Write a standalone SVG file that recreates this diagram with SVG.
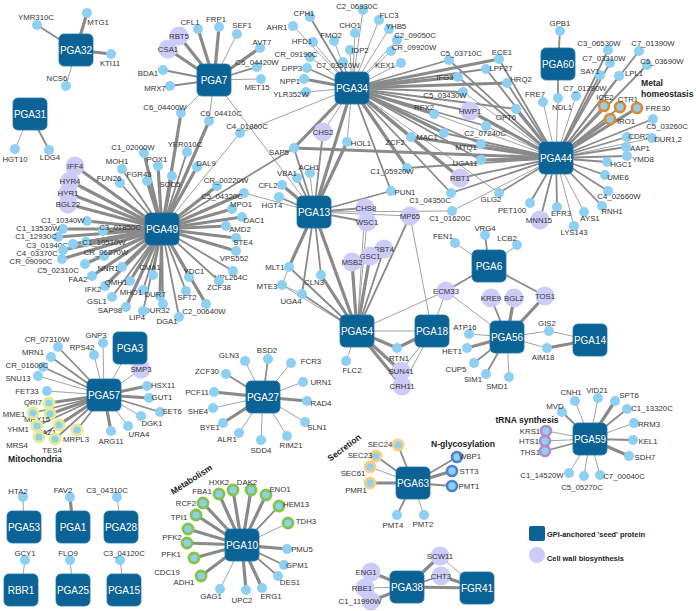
<svg xmlns="http://www.w3.org/2000/svg" width="696" height="611" viewBox="0 0 696 611">
<style>
.e{stroke:#8a8a8a;fill:none;stroke-linecap:round}
.a{stroke-width:0.8}.b{stroke-width:1.8}.c{stroke-width:3.2}
.n{fill:#8dd0f2}
.p{fill:#cdccf8}
.s{fill:#0b6294;stroke:#2277aa;stroke-width:0.8}
.t{font-family:"Liberation Sans",Arial,sans-serif;font-size:7.8px;fill:#333;text-anchor:middle}
.st{font-family:"Liberation Sans",Arial,sans-serif;font-size:10px;fill:#fff;text-anchor:middle}
.h{font-family:"Liberation Sans",Arial,sans-serif;font-size:8.6px;font-weight:bold;fill:#222}
.lg{font-family:"Liberation Sans",Arial,sans-serif;font-size:7.4px;font-weight:bold;fill:#222}
.ro{fill:#8dd0f2;stroke:#e0892c;stroke-width:2.6}
.rg{fill:#8dd0f2;stroke:#86c34a;stroke-width:2.8}
.ry{fill:#8dd0f2;stroke:#e6ea92;stroke-width:3}
.rs{fill:#8dd0f2;stroke:#f6cf88;stroke-width:3}
.rb{fill:#8dd0f2;stroke:#4f7fd2;stroke-width:2.6}
.rv{fill:#8dd0f2;stroke:#b68ac6;stroke-width:2.6}
</style>
<rect width="696" height="611" fill="#fff"/>
<g id="edges" class="e">
<line class="b" x1="76" y1="50" x2="37" y2="25"/><line class="c" x1="76" y1="50" x2="87" y2="13"/><line class="c" x1="76" y1="50" x2="111" y2="54"/><line class="a" x1="76" y1="50" x2="66" y2="86"/>
<line class="a" x1="30" y1="114" x2="15" y2="149"/><line class="b" x1="30" y1="114" x2="49" y2="150"/>
<line class="c" x1="214" y1="80" x2="198" y2="29"/><line class="c" x1="214" y1="80" x2="219" y2="27"/><line class="a" x1="214" y1="80" x2="237" y2="34"/><line class="c" x1="214" y1="80" x2="260" y2="48"/><line class="b" x1="214" y1="80" x2="257" y2="67"/><line class="a" x1="214" y1="80" x2="261" y2="79"/><line class="b" x1="214" y1="80" x2="170" y2="86"/><line class="b" x1="214" y1="80" x2="163" y2="70"/><line class="c" x1="214" y1="80" x2="168" y2="49"/><line class="c" x1="214" y1="80" x2="179" y2="36"/><line class="a" x1="214" y1="80" x2="181" y2="113"/><line class="a" x1="214" y1="80" x2="209" y2="121"/><line class="a" x1="214" y1="80" x2="314" y2="212"/>
<line class="c" x1="162" y1="229" x2="181" y2="113"/><line class="c" x1="162" y1="229" x2="209" y2="121"/><line class="c" x1="162" y1="229" x2="75" y2="166"/><line class="c" x1="162" y1="229" x2="70" y2="181"/><line class="c" x1="162" y1="229" x2="68" y2="193"/><line class="c" x1="162" y1="229" x2="68" y2="204"/><line class="c" x1="162" y1="229" x2="144" y2="153"/><line class="b" x1="162" y1="229" x2="122" y2="169"/><line class="c" x1="162" y1="229" x2="158" y2="166"/><line class="b" x1="162" y1="229" x2="120" y2="183"/><line class="c" x1="162" y1="229" x2="147" y2="181"/><line class="c" x1="162" y1="229" x2="172" y2="176"/><line class="b" x1="162" y1="229" x2="187" y2="152"/><line class="c" x1="162" y1="229" x2="197" y2="167"/><line class="c" x1="162" y1="229" x2="217" y2="186"/><line class="c" x1="162" y1="229" x2="244" y2="193"/><line class="c" x1="162" y1="229" x2="232" y2="209"/><line class="c" x1="162" y1="229" x2="242" y2="217"/><line class="c" x1="162" y1="229" x2="226" y2="226"/><line class="c" x1="162" y1="229" x2="236" y2="238"/><line class="c" x1="162" y1="229" x2="236" y2="251"/><line class="b" x1="162" y1="229" x2="233" y2="271"/><line class="b" x1="162" y1="229" x2="219" y2="281"/><line class="b" x1="162" y1="229" x2="189" y2="277"/><line class="b" x1="162" y1="229" x2="186" y2="291"/><line class="c" x1="162" y1="229" x2="206" y2="304"/><line class="b" x1="162" y1="229" x2="179" y2="317"/><line class="c" x1="162" y1="229" x2="87" y2="221"/><line class="c" x1="162" y1="229" x2="63" y2="229"/><line class="c" x1="162" y1="229" x2="103" y2="231"/><line class="c" x1="162" y1="229" x2="58" y2="237"/><line class="c" x1="162" y1="229" x2="86" y2="242"/><line class="c" x1="162" y1="229" x2="73" y2="244"/><line class="c" x1="162" y1="229" x2="63" y2="250"/><line class="c" x1="162" y1="229" x2="104" y2="256"/><line class="c" x1="162" y1="229" x2="62" y2="259"/><line class="c" x1="162" y1="229" x2="85" y2="264"/><line class="c" x1="162" y1="229" x2="122" y2="267"/><line class="c" x1="162" y1="229" x2="92" y2="276"/><line class="b" x1="162" y1="229" x2="153" y2="275"/><line class="c" x1="162" y1="229" x2="105" y2="286"/><line class="c" x1="162" y1="229" x2="130" y2="281"/><line class="b" x1="162" y1="229" x2="143" y2="290"/><line class="c" x1="162" y1="229" x2="160" y2="296"/><line class="b" x1="162" y1="229" x2="112" y2="297"/><line class="c" x1="162" y1="229" x2="126" y2="307"/><line class="b" x1="162" y1="229" x2="163" y2="304"/><line class="b" x1="162" y1="229" x2="143" y2="311"/><line class="a" x1="162" y1="229" x2="240" y2="133"/><line class="b" x1="162" y1="229" x2="294" y2="148"/>
<line class="a" x1="240" y1="133" x2="352" y2="88"/><line class="a" x1="244" y1="193" x2="314" y2="212"/>
<line class="b" x1="352" y1="88" x2="310" y2="17"/><line class="a" x1="352" y1="88" x2="293" y2="26"/><line class="a" x1="352" y1="88" x2="313" y2="42"/><line class="a" x1="352" y1="88" x2="334" y2="41"/><line class="a" x1="352" y1="88" x2="310" y2="57"/><line class="b" x1="352" y1="88" x2="307" y2="68"/><line class="c" x1="352" y1="88" x2="304" y2="79"/><line class="a" x1="352" y1="88" x2="306" y2="92"/><line class="a" x1="352" y1="88" x2="363" y2="10"/><line class="a" x1="352" y1="88" x2="355" y2="33"/><line class="a" x1="352" y1="88" x2="379" y2="20"/><line class="a" x1="352" y1="88" x2="389" y2="29"/><line class="a" x1="352" y1="88" x2="397" y2="40"/><line class="a" x1="352" y1="88" x2="391" y2="51"/><line class="a" x1="352" y1="88" x2="350" y2="50"/><line class="a" x1="352" y1="88" x2="343" y2="62"/><line class="a" x1="352" y1="88" x2="401" y2="63"/><line class="b" x1="352" y1="88" x2="449" y2="60"/><line class="c" x1="352" y1="88" x2="499" y2="59"/><line class="b" x1="352" y1="88" x2="486" y2="69"/><line class="c" x1="352" y1="88" x2="458" y2="77"/><line class="c" x1="352" y1="88" x2="507" y2="83"/><line class="b" x1="352" y1="88" x2="463" y2="92"/><line class="b" x1="352" y1="88" x2="470" y2="111"/><line class="c" x1="352" y1="88" x2="434" y2="114"/><line class="b" x1="352" y1="88" x2="516" y2="109"/><line class="b" x1="352" y1="88" x2="486" y2="126"/><line class="c" x1="352" y1="88" x2="444" y2="133"/><line class="c" x1="352" y1="88" x2="411" y2="137"/><line class="b" x1="352" y1="88" x2="481" y2="144"/><line class="b" x1="352" y1="88" x2="481" y2="160"/><line class="c" x1="352" y1="88" x2="407" y2="168"/><line class="c" x1="352" y1="88" x2="460" y2="178"/><line class="b" x1="352" y1="88" x2="391" y2="191"/><line class="b" x1="352" y1="88" x2="451" y2="193"/><line class="a" x1="352" y1="88" x2="499" y2="193"/><line class="a" x1="352" y1="88" x2="347" y2="142"/><line class="c" x1="352" y1="88" x2="294" y2="148"/><line class="a" x1="352" y1="88" x2="323" y2="132"/><line class="c" x1="352" y1="88" x2="314" y2="212"/>
<line class="b" x1="556" y1="158" x2="449" y2="60"/><line class="b" x1="556" y1="158" x2="499" y2="59"/><line class="b" x1="556" y1="158" x2="486" y2="69"/><line class="b" x1="556" y1="158" x2="458" y2="77"/><line class="b" x1="556" y1="158" x2="507" y2="83"/><line class="a" x1="556" y1="158" x2="463" y2="92"/><line class="c" x1="556" y1="158" x2="470" y2="111"/><line class="a" x1="556" y1="158" x2="434" y2="114"/><line class="c" x1="556" y1="158" x2="516" y2="109"/><line class="a" x1="556" y1="158" x2="486" y2="126"/><line class="b" x1="556" y1="158" x2="444" y2="133"/><line class="c" x1="556" y1="158" x2="411" y2="137"/><line class="b" x1="556" y1="158" x2="481" y2="144"/><line class="c" x1="556" y1="158" x2="481" y2="160"/><line class="b" x1="556" y1="158" x2="407" y2="168"/><line class="b" x1="556" y1="158" x2="460" y2="178"/><line class="b" x1="556" y1="158" x2="451" y2="193"/><line class="b" x1="556" y1="158" x2="499" y2="193"/><line class="c" x1="556" y1="158" x2="294" y2="148"/><line class="a" x1="556" y1="158" x2="543" y2="102"/><line class="a" x1="556" y1="158" x2="558" y2="98"/><line class="a" x1="556" y1="158" x2="576" y2="96"/><line class="b" x1="556" y1="158" x2="600" y2="75"/><line class="b" x1="556" y1="158" x2="608" y2="50"/><line class="b" x1="556" y1="158" x2="610" y2="63"/><line class="b" x1="556" y1="158" x2="619" y2="76"/><line class="b" x1="556" y1="158" x2="639" y2="51"/><line class="b" x1="556" y1="158" x2="647" y2="65"/><line class="b" x1="556" y1="158" x2="604" y2="106"/><line class="b" x1="556" y1="158" x2="620" y2="107"/><line class="c" x1="556" y1="158" x2="637" y2="108"/><line class="c" x1="556" y1="158" x2="610" y2="119"/><line class="b" x1="556" y1="158" x2="653" y2="119"/><line class="b" x1="556" y1="158" x2="627" y2="137"/><line class="a" x1="556" y1="158" x2="652" y2="138"/><line class="b" x1="556" y1="158" x2="626" y2="147"/><line class="b" x1="556" y1="158" x2="627" y2="156"/><line class="b" x1="556" y1="158" x2="607" y2="162"/><line class="b" x1="556" y1="158" x2="605" y2="175"/><line class="b" x1="556" y1="158" x2="608" y2="191"/><line class="b" x1="556" y1="158" x2="602" y2="206"/><line class="a" x1="556" y1="158" x2="584" y2="212"/><line class="a" x1="556" y1="158" x2="574" y2="226"/><line class="b" x1="556" y1="158" x2="557" y2="207"/><line class="b" x1="556" y1="158" x2="540" y2="220"/><line class="b" x1="556" y1="158" x2="530" y2="203"/><line class="a" x1="556" y1="158" x2="452" y2="211"/>
<line class="b" x1="558" y1="64" x2="560" y2="31"/><line class="b" x1="558" y1="64" x2="558" y2="98"/>
<line class="b" x1="314" y1="212" x2="279" y2="197"/><line class="c" x1="314" y1="212" x2="282" y2="185"/><line class="b" x1="314" y1="212" x2="297" y2="178"/><line class="a" x1="314" y1="212" x2="310" y2="173"/><line class="b" x1="314" y1="212" x2="294" y2="148"/><line class="b" x1="314" y1="212" x2="323" y2="132"/><line class="c" x1="314" y1="212" x2="347" y2="142"/><line class="b" x1="314" y1="212" x2="391" y2="191"/><line class="a" x1="314" y1="212" x2="452" y2="211"/><line class="b" x1="314" y1="212" x2="365" y2="208"/><line class="b" x1="314" y1="212" x2="367" y2="222"/><line class="a" x1="314" y1="212" x2="410" y2="216"/><line class="c" x1="314" y1="212" x2="289" y2="267"/><line class="b" x1="314" y1="212" x2="321" y2="275"/><line class="b" x1="314" y1="212" x2="302" y2="294"/><line class="c" x1="314" y1="212" x2="357" y2="331"/>
<line class="a" x1="289" y1="267" x2="282" y2="285"/><line class="a" x1="282" y1="285" x2="302" y2="294"/>
<line class="b" x1="357" y1="331" x2="289" y2="267"/><line class="b" x1="357" y1="331" x2="302" y2="294"/><line class="c" x1="357" y1="331" x2="321" y2="275"/><line class="a" x1="357" y1="331" x2="282" y2="285"/><line class="a" x1="357" y1="331" x2="346" y2="361"/><line class="c" x1="357" y1="331" x2="397" y2="348"/><line class="c" x1="357" y1="331" x2="401" y2="371"/><line class="c" x1="357" y1="331" x2="402" y2="386"/><line class="a" x1="357" y1="331" x2="446" y2="291"/><line class="a" x1="357" y1="331" x2="432" y2="331"/><line class="c" x1="357" y1="331" x2="352" y2="262"/><line class="c" x1="357" y1="331" x2="370" y2="256"/><line class="b" x1="357" y1="331" x2="384" y2="249"/><line class="b" x1="357" y1="331" x2="410" y2="216"/><line class="a" x1="357" y1="331" x2="365" y2="208"/><line class="a" x1="357" y1="331" x2="367" y2="222"/>
<line class="c" x1="432" y1="331" x2="397" y2="348"/><line class="a" x1="432" y1="331" x2="401" y2="371"/><line class="a" x1="432" y1="331" x2="402" y2="386"/><line class="a" x1="432" y1="331" x2="446" y2="291"/><line class="a" x1="432" y1="331" x2="410" y2="216"/>
<line class="a" x1="489" y1="266" x2="455" y2="243"/><line class="b" x1="489" y1="266" x2="485" y2="235"/><line class="a" x1="489" y1="266" x2="517" y2="245"/><line class="b" x1="489" y1="266" x2="446" y2="291"/><line class="b" x1="489" y1="266" x2="545" y2="296"/>
<line class="b" x1="507" y1="337" x2="491" y2="298"/><line class="c" x1="507" y1="337" x2="514" y2="298"/><line class="c" x1="507" y1="337" x2="545" y2="296"/><line class="a" x1="507" y1="337" x2="446" y2="291"/><line class="a" x1="507" y1="337" x2="469" y2="334"/><line class="c" x1="507" y1="337" x2="467" y2="348"/><line class="b" x1="507" y1="337" x2="474" y2="363"/><line class="b" x1="507" y1="337" x2="486" y2="374"/><line class="a" x1="507" y1="337" x2="509" y2="377"/><line class="a" x1="507" y1="337" x2="549" y2="331"/><line class="a" x1="507" y1="337" x2="547" y2="348"/>
<line class="a" x1="590" y1="340" x2="549" y2="331"/><line class="c" x1="590" y1="340" x2="547" y2="348"/>
<line class="a" x1="130" y1="348" x2="141" y2="369"/><line class="a" x1="130" y1="348" x2="104" y2="395"/>
<line class="a" x1="104" y1="395" x2="141" y2="369"/><line class="a" x1="104" y1="395" x2="103" y2="343"/><line class="a" x1="104" y1="395" x2="94" y2="355"/><line class="b" x1="104" y1="395" x2="58" y2="347"/><line class="b" x1="104" y1="395" x2="51" y2="357"/><line class="b" x1="104" y1="395" x2="43" y2="367"/><line class="a" x1="104" y1="395" x2="38" y2="376"/><line class="a" x1="104" y1="395" x2="47" y2="391"/><line class="c" x1="104" y1="395" x2="49" y2="403"/><line class="c" x1="104" y1="395" x2="147" y2="386"/><line class="c" x1="104" y1="395" x2="149" y2="398"/><line class="b" x1="104" y1="395" x2="160" y2="412"/><line class="a" x1="104" y1="395" x2="141" y2="416"/><line class="a" x1="104" y1="395" x2="128" y2="426"/><line class="c" x1="104" y1="395" x2="111" y2="431"/><line class="b" x1="104" y1="395" x2="77" y2="430"/><line class="c" x1="104" y1="395" x2="59" y2="425"/><line class="c" x1="104" y1="395" x2="50" y2="414"/><line class="b" x1="104" y1="395" x2="33" y2="413"/><line class="b" x1="104" y1="395" x2="37" y2="426"/><line class="b" x1="104" y1="395" x2="39" y2="437"/><line class="b" x1="104" y1="395" x2="55" y2="439"/>
<line class="a" x1="263" y1="397" x2="245" y2="361"/><line class="b" x1="263" y1="397" x2="268" y2="359"/><line class="a" x1="263" y1="397" x2="291" y2="363"/><line class="b" x1="263" y1="397" x2="226" y2="374"/><line class="a" x1="263" y1="397" x2="303" y2="382"/><line class="c" x1="263" y1="397" x2="214" y2="392"/><line class="c" x1="263" y1="397" x2="307" y2="401"/><line class="a" x1="263" y1="397" x2="213" y2="408"/><line class="c" x1="263" y1="397" x2="223" y2="423"/><line class="a" x1="263" y1="397" x2="239" y2="433"/><line class="a" x1="263" y1="397" x2="261" y2="440"/><line class="a" x1="263" y1="397" x2="287" y2="436"/><line class="a" x1="263" y1="397" x2="305" y2="422"/>
<line class="c" x1="242" y1="545" x2="219" y2="494"/><line class="c" x1="242" y1="545" x2="233" y2="490"/><line class="c" x1="242" y1="545" x2="251" y2="490"/><line class="c" x1="242" y1="545" x2="266" y2="495"/><line class="b" x1="242" y1="545" x2="279" y2="506"/><line class="a" x1="242" y1="545" x2="288" y2="523"/><line class="c" x1="242" y1="545" x2="203" y2="503"/><line class="c" x1="242" y1="545" x2="196" y2="515"/><line class="c" x1="242" y1="545" x2="188" y2="529"/><line class="c" x1="242" y1="545" x2="187" y2="543"/><line class="c" x1="242" y1="545" x2="194" y2="558"/><line class="c" x1="242" y1="545" x2="201" y2="576"/><line class="c" x1="242" y1="545" x2="287" y2="549"/><line class="b" x1="242" y1="545" x2="284" y2="565"/><line class="b" x1="242" y1="545" x2="278" y2="576"/><line class="c" x1="242" y1="545" x2="262" y2="588"/><line class="c" x1="242" y1="545" x2="246" y2="590"/><line class="a" x1="242" y1="545" x2="220" y2="589"/>
<line class="b" x1="413" y1="483" x2="398" y2="445"/><line class="b" x1="413" y1="483" x2="376" y2="456"/><line class="a" x1="413" y1="483" x2="370" y2="467"/><line class="c" x1="413" y1="483" x2="370" y2="483"/><line class="b" x1="413" y1="483" x2="457" y2="457"/><line class="c" x1="413" y1="483" x2="452" y2="471"/><line class="b" x1="413" y1="483" x2="452" y2="486"/><line class="b" x1="413" y1="483" x2="397" y2="515"/><line class="a" x1="413" y1="483" x2="424" y2="515"/>
<line class="a" x1="590" y1="439" x2="575" y2="401"/><line class="a" x1="590" y1="439" x2="598" y2="398"/><line class="c" x1="590" y1="439" x2="615" y2="401"/><line class="b" x1="590" y1="439" x2="562" y2="412"/><line class="b" x1="590" y1="439" x2="627" y2="409"/><line class="a" x1="590" y1="439" x2="634" y2="423"/><line class="b" x1="590" y1="439" x2="633" y2="440"/><line class="c" x1="590" y1="439" x2="629" y2="456"/><line class="a" x1="590" y1="439" x2="600" y2="475"/><line class="a" x1="590" y1="439" x2="584" y2="476"/><line class="a" x1="590" y1="439" x2="569" y2="473"/><line class="a" x1="590" y1="439" x2="546" y2="431"/><line class="a" x1="590" y1="439" x2="545" y2="441"/><line class="b" x1="590" y1="439" x2="545" y2="451"/>
<line class="c" x1="407" y1="587" x2="371" y2="572"/><line class="a" x1="407" y1="587" x2="365" y2="588"/><line class="c" x1="407" y1="587" x2="371" y2="601"/><line class="c" x1="407" y1="587" x2="440" y2="556"/><line class="b" x1="407" y1="587" x2="441" y2="576"/><line class="c" x1="407" y1="587" x2="477" y2="588"/><line class="a" x1="477" y1="588" x2="440" y2="556"/><line class="c" x1="477" y1="588" x2="441" y2="576"/>
<line class="a" x1="24" y1="527" x2="23" y2="497"/><line class="c" x1="73" y1="527" x2="70" y2="497"/><line class="a" x1="121" y1="527" x2="117" y2="497"/><line class="a" x1="21" y1="590" x2="25" y2="560"/><line class="a" x1="73" y1="590" x2="70" y2="560"/><line class="a" x1="124" y1="590" x2="120" y2="560"/>
</g>
<g id="n-YMR310C"><circle class="n" cx="37" cy="25" r="5"/><text class="t" x="36" y="20">YMR310C</text></g>
<g id="n-MTG1"><circle class="n" cx="87" cy="13" r="5"/><text class="t" x="98" y="25">MTG1</text></g>
<g id="n-KTI11"><circle class="n" cx="111" cy="54" r="5"/><text class="t" x="110" y="66">KTI11</text></g>
<g id="n-NCS6"><circle class="n" cx="66" cy="86" r="5"/><text class="t" x="57" y="81">NCS6</text></g>
<g id="n-HGT10"><circle class="n" cx="15" cy="149" r="5"/><text class="t" x="15" y="162">HGT10</text></g>
<g id="n-LDG4"><circle class="n" cx="49" cy="150" r="5"/><text class="t" x="50" y="160">LDG4</text></g>
<g id="n-CFL1"><circle class="n" cx="198" cy="29" r="5"/><text class="t" x="190" y="25">CFL1</text></g>
<g id="n-FRP1"><circle class="n" cx="219" cy="27" r="5"/><text class="t" x="216" y="22">FRP1</text></g>
<g id="n-SEF1"><circle class="n" cx="237" cy="34" r="5"/><text class="t" x="242" y="28">SEF1</text></g>
<g id="n-AVT7"><circle class="n" cx="260" cy="48" r="5"/><text class="t" x="262" y="45">AVT7</text></g>
<g id="n-C6_04420W"><circle class="n" cx="257" cy="67" r="5"/><text class="t" x="257" y="65">C6_04420W</text></g>
<g id="n-MET15"><circle class="n" cx="261" cy="79" r="5"/><text class="t" x="257" y="90">MET15</text></g>
<g id="n-MRX7"><circle class="n" cx="170" cy="86" r="5"/><text class="t" x="155" y="91">MRX7</text></g>
<g id="n-BDA1"><circle class="n" cx="163" cy="70" r="5"/><text class="t" x="148" y="76">BDA1</text></g>
<g id="n-CSA1"><circle class="p" cx="168" cy="49" r="9.5"/><text class="t" x="168" y="52">CSA1</text></g>
<g id="n-RBT5"><circle class="p" cx="179" cy="36" r="9.5"/><text class="t" x="179" y="39">RBT5</text></g>
<g id="n-C6_04400W"><circle class="n" cx="181" cy="113" r="5"/><text class="t" x="165" y="110">C6_04400W</text></g>
<g id="n-C6_04410C"><circle class="n" cx="209" cy="121" r="5"/><text class="t" x="221" y="116">C6_04410C</text></g>
<g id="n-C4_01860C"><circle class="n" cx="240" cy="133" r="5"/><text class="t" x="247" y="129">C4_01860C</text></g>
<g id="n-CPH1"><circle class="n" cx="310" cy="17" r="5"/><text class="t" x="304" y="16">CPH1</text></g>
<g id="n-AHR1"><circle class="n" cx="293" cy="26" r="5"/><text class="t" x="277" y="30">AHR1</text></g>
<g id="n-HFD1"><circle class="n" cx="313" cy="42" r="5"/><text class="t" x="302" y="44">HFD1</text></g>
<g id="n-FMO2"><circle class="n" cx="334" cy="41" r="5"/><text class="t" x="331" y="38">FMO2</text></g>
<g id="n-CR_09190C"><circle class="n" cx="310" cy="57" r="5"/><text class="t" x="296" y="57">CR_09190C</text></g>
<g id="n-DPP3"><circle class="n" cx="307" cy="68" r="5"/><text class="t" x="292" y="71">DPP3</text></g>
<g id="n-NPP1"><circle class="n" cx="304" cy="79" r="5"/><text class="t" x="290" y="84">NPP1</text></g>
<g id="n-YLR352W"><circle class="n" cx="306" cy="92" r="5"/><text class="t" x="291" y="97">YLR352W</text></g>
<g id="n-C2_06930C"><circle class="n" cx="363" cy="10" r="5"/><text class="t" x="357" y="9">C2_06930C</text></g>
<g id="n-CHO1"><circle class="n" cx="355" cy="33" r="5"/><text class="t" x="350" y="28">CHO1</text></g>
<g id="n-FLC3"><circle class="n" cx="379" cy="20" r="5"/><text class="t" x="389" y="18">FLC3</text></g>
<g id="n-YHB5"><circle class="n" cx="389" cy="29" r="5"/><text class="t" x="396" y="29">YHB5</text></g>
<g id="n-C2_09050C"><circle class="n" cx="397" cy="40" r="5"/><text class="t" x="415" y="38">C2_09050C</text></g>
<g id="n-CR_09920W"><circle class="n" cx="391" cy="51" r="5"/><text class="t" x="414" y="50">CR_09920W</text></g>
<g id="n-IDP2"><circle class="n" cx="350" cy="50" r="5"/><text class="t" x="360" y="53">IDP2</text></g>
<g id="n-C7_03510W"><circle class="n" cx="343" cy="62" r="5"/><text class="t" x="338" y="68">C7_03510W</text></g>
<g id="n-KEX1"><circle class="n" cx="401" cy="63" r="5"/><text class="t" x="385" y="68">KEX1</text></g>
<g id="n-C5_03710C"><circle class="n" cx="449" cy="60" r="5"/><text class="t" x="461" y="56">C5_03710C</text></g>
<g id="n-ECE1"><circle class="n" cx="499" cy="59" r="5"/><text class="t" x="502" y="55">ECE1</text></g>
<g id="n-LPF27"><circle class="n" cx="486" cy="69" r="5"/><text class="t" x="501" y="71">LPF27</text></g>
<g id="n-IFG3"><circle class="n" cx="458" cy="77" r="5"/><text class="t" x="445" y="80">IFG3</text></g>
<g id="n-HRQ2"><circle class="n" cx="507" cy="83" r="5"/><text class="t" x="521" y="82">HRQ2</text></g>
<g id="n-C5_03430W"><circle class="n" cx="463" cy="92" r="5"/><text class="t" x="445" y="98">C5_03430W</text></g>
<g id="n-HWP1"><circle class="p" cx="470" cy="111" r="9.5"/><text class="t" x="470" y="114">HWP1</text></g>
<g id="n-RFX2"><circle class="n" cx="434" cy="114" r="5"/><text class="t" x="424" y="110">RFX2</text></g>
<g id="n-OPT6"><circle class="n" cx="516" cy="109" r="5"/><text class="t" x="506" y="120">OPT6</text></g>
<g id="n-C2_07240C"><circle class="n" cx="486" cy="126" r="5"/><text class="t" x="485" y="136">C2_07240C</text></g>
<g id="n-MAC1"><circle class="n" cx="444" cy="133" r="5"/><text class="t" x="427" y="140">MAC1</text></g>
<g id="n-ZCF2"><circle class="n" cx="411" cy="137" r="5"/><text class="t" x="395" y="145">ZCF2</text></g>
<g id="n-MTQ1"><circle class="n" cx="481" cy="144" r="5"/><text class="t" x="466" y="150">MTQ1</text></g>
<g id="n-UGA11"><circle class="n" cx="481" cy="160" r="5"/><text class="t" x="465" y="166">UGA11</text></g>
<g id="n-C1_05920W"><circle class="n" cx="407" cy="168" r="5"/><text class="t" x="392" y="174">C1_05920W</text></g>
<g id="n-RBT1"><circle class="p" cx="460" cy="178" r="9.5"/><text class="t" x="460" y="181">RBT1</text></g>
<g id="n-PUN1"><circle class="n" cx="391" cy="191" r="5"/><text class="t" x="405" y="195">PUN1</text></g>
<g id="n-C1_04350C"><circle class="n" cx="451" cy="193" r="5"/><text class="t" x="430" y="203">C1_04350C</text></g>
<g id="n-GLG2"><circle class="n" cx="499" cy="193" r="5"/><text class="t" x="491" y="202">GLG2</text></g>
<g id="n-HOL1"><circle class="n" cx="347" cy="142" r="5"/><text class="t" x="361" y="146">HOL1</text></g>
<g id="n-GPB1"><circle class="n" cx="560" cy="31" r="5"/><text class="t" x="560" y="26">GPB1</text></g>
<g id="n-NDL1"><circle class="n" cx="558" cy="98" r="5"/><text class="t" x="562" y="110">NDL1</text></g>
<g id="n-C3_06530W"><circle class="n" cx="608" cy="50" r="5"/><text class="t" x="599" y="46">C3_06530W</text></g>
<g id="n-C7_01390W"><circle class="n" cx="639" cy="51" r="5"/><text class="t" x="653" y="46">C7_01390W</text></g>
<g id="n-C7_03310W"><circle class="n" cx="610" cy="63" r="5"/><text class="t" x="604" y="61">C7_03310W</text></g>
<g id="n-C5_03690W"><circle class="n" cx="647" cy="65" r="5"/><text class="t" x="662" y="64">C5_03690W</text></g>
<g id="n-SAY1"><circle class="n" cx="600" cy="75" r="5"/><text class="t" x="590" y="74">SAY1</text></g>
<g id="n-LPL1"><circle class="n" cx="619" cy="76" r="5"/><text class="t" x="634" y="76">LPL1</text></g>
<g id="n-C7_01390W-2"><circle class="n" cx="576" cy="96" r="5"/><text class="t" x="585" y="91">C7_01390W</text></g>
<g id="n-FRE7"><circle class="n" cx="543" cy="102" r="5"/><text class="t" x="535" y="97">FRE7</text></g>
<g id="n-ICE2"><circle class="ro" cx="604" cy="106" r="5"/><text class="t" x="605" y="100">ICE2</text></g>
<g id="n-CTR1"><circle class="ro" cx="620" cy="107" r="5"/><text class="t" x="628" y="102">CTR1</text></g>
<g id="n-FRE30"><circle class="ro" cx="637" cy="108" r="5"/><text class="t" x="658" y="111">FRE30</text></g>
<g id="n-IRO1"><circle class="ro" cx="610" cy="119" r="5"/><text class="t" x="626" y="124">IRO1</text></g>
<g id="n-C5_03260C"><circle class="n" cx="653" cy="119" r="5"/><text class="t" x="667" y="129">C5_03260C</text></g>
<g id="n-CDR2"><circle class="n" cx="627" cy="137" r="5"/><text class="t" x="639" y="139">CDR2</text></g>
<g id="n-DUR1_2"><circle class="n" cx="652" cy="138" r="5"/><text class="t" x="668" y="142">DUR1,2</text></g>
<g id="n-AAP1"><circle class="n" cx="626" cy="147" r="5"/><text class="t" x="640" y="151">AAP1</text></g>
<g id="n-YMD8"><circle class="n" cx="627" cy="156" r="5"/><text class="t" x="643" y="162">YMD8</text></g>
<g id="n-HGC1"><circle class="n" cx="607" cy="162" r="5"/><text class="t" x="621" y="167">HGC1</text></g>
<g id="n-UME6"><circle class="n" cx="605" cy="175" r="5"/><text class="t" x="618" y="180">UME6</text></g>
<g id="n-C4_02660W"><circle class="n" cx="608" cy="191" r="5"/><text class="t" x="619" y="199">C4_02660W</text></g>
<g id="n-RNH1"><circle class="n" cx="602" cy="206" r="5"/><text class="t" x="612" y="214">RNH1</text></g>
<g id="n-AYS1"><circle class="n" cx="584" cy="212" r="5"/><text class="t" x="590" y="221">AYS1</text></g>
<g id="n-LYS143"><circle class="n" cx="574" cy="226" r="5"/><text class="t" x="574" y="235">LYS143</text></g>
<g id="n-EFR3"><circle class="n" cx="557" cy="207" r="5"/><text class="t" x="561" y="216">EFR3</text></g>
<g id="n-MNN15"><circle class="p" cx="540" cy="220" r="9.5"/><text class="t" x="539" y="223">MNN15</text></g>
<g id="n-PET100"><circle class="n" cx="530" cy="203" r="5"/><text class="t" x="512" y="213">PET100</text></g>
<g id="n-C1_01620C"><circle class="n" cx="452" cy="211" r="5"/><text class="t" x="450" y="221">C1_01620C</text></g>
<g id="n-IFF4"><circle class="p" cx="75" cy="166" r="9.5"/><text class="t" x="75" y="169">IFF4</text></g>
<g id="n-HYR4"><circle class="p" cx="70" cy="181" r="9.5"/><text class="t" x="70" y="184">HYR4</text></g>
<g id="n-HYR1"><circle class="p" cx="68" cy="193" r="9.5"/><text class="t" x="68" y="196">HYR1</text></g>
<g id="n-BGL22"><circle class="p" cx="68" cy="204" r="9.5"/><text class="t" x="68" y="207">BGL22</text></g>
<g id="n-C1_02000W"><circle class="n" cx="144" cy="153" r="5"/><text class="t" x="133" y="150">C1_02000W</text></g>
<g id="n-MOH1"><circle class="n" cx="122" cy="169" r="5"/><text class="t" x="117" y="164">MOH1</text></g>
<g id="n-POX1"><circle class="n" cx="158" cy="166" r="5"/><text class="t" x="157" y="162">POX1</text></g>
<g id="n-FUN26"><circle class="n" cx="120" cy="183" r="5"/><text class="t" x="109" y="181">FUN26</text></g>
<g id="n-FGR43"><circle class="n" cx="147" cy="181" r="5"/><text class="t" x="139" y="177">FGR43</text></g>
<g id="n-SOD5"><circle class="n" cx="172" cy="176" r="5"/><text class="t" x="170" y="187">SOD5</text></g>
<g id="n-YER010C"><circle class="n" cx="187" cy="152" r="5"/><text class="t" x="185" y="147">YER010C</text></g>
<g id="n-DAL9"><circle class="n" cx="197" cy="167" r="5"/><text class="t" x="206" y="166">DAL9</text></g>
<g id="n-CR_00220W"><circle class="n" cx="217" cy="186" r="5"/><text class="t" x="226" y="183">CR_00220W</text></g>
<g id="n-C5_04320C"><circle class="n" cx="244" cy="193" r="5"/><text class="t" x="222" y="199">C5_04320C</text></g>
<g id="n-MPO1"><circle class="n" cx="232" cy="209" r="5"/><text class="t" x="241" y="207">MPO1</text></g>
<g id="n-DAC1"><circle class="n" cx="242" cy="217" r="5"/><text class="t" x="254" y="223">DAC1</text></g>
<g id="n-AMD2"><circle class="n" cx="226" cy="226" r="5"/><text class="t" x="240" y="232">AMD2</text></g>
<g id="n-STE4"><circle class="n" cx="236" cy="238" r="5"/><text class="t" x="243" y="245">STE4</text></g>
<g id="n-VPS552"><circle class="n" cx="236" cy="251" r="5"/><text class="t" x="234" y="261">VPS552</text></g>
<g id="n-YPL264C"><circle class="n" cx="233" cy="271" r="5"/><text class="t" x="231" y="280">YPL264C</text></g>
<g id="n-ZCF38"><circle class="n" cx="219" cy="281" r="5"/><text class="t" x="219" y="290">ZCF38</text></g>
<g id="n-YDC1"><circle class="n" cx="189" cy="277" r="5"/><text class="t" x="194" y="274">YDC1</text></g>
<g id="n-SFT2"><circle class="n" cx="186" cy="291" r="5"/><text class="t" x="187" y="300">SFT2</text></g>
<g id="n-C2_00640W"><circle class="n" cx="206" cy="304" r="5"/><text class="t" x="204" y="314">C2_00640W</text></g>
<g id="n-DGA1"><circle class="n" cx="179" cy="317" r="5"/><text class="t" x="167" y="324">DGA1</text></g>
<g id="n-C1_10340W"><circle class="n" cx="87" cy="221" r="5"/><text class="t" x="63" y="223">C1_10340W</text></g>
<g id="n-C1_13530W"><circle class="n" cx="63" cy="229" r="5"/><text class="t" x="38" y="231">C1_13530W</text></g>
<g id="n-C3_01850C"><circle class="n" cx="103" cy="231" r="5"/><text class="t" x="120" y="230">C3_01850C</text></g>
<g id="n-C1_12930C"><circle class="n" cx="58" cy="237" r="5"/><text class="t" x="36" y="239">C1_12930C</text></g>
<g id="n-C1_10510W"><circle class="n" cx="86" cy="242" r="5"/><text class="t" x="104" y="245">C1_10510W</text></g>
<g id="n-C3_01940C"><circle class="n" cx="73" cy="244" r="5"/><text class="t" x="47" y="247.5">C3_01940C</text></g>
<g id="n-C4_03370C"><circle class="n" cx="63" cy="250" r="5"/><text class="t" x="37" y="255.5">C4_03370C</text></g>
<g id="n-CR_06270W"><circle class="n" cx="104" cy="256" r="5"/><text class="t" x="106" y="255">CR_06270W</text></g>
<g id="n-CR_09090C"><circle class="n" cx="62" cy="259" r="5"/><text class="t" x="31" y="264">CR_09090C</text></g>
<g id="n-C5_02310C"><circle class="n" cx="85" cy="264" r="5"/><text class="t" x="58" y="272.5">C5_02310C</text></g>
<g id="n-NNR1"><circle class="n" cx="122" cy="267" r="5"/><text class="t" x="108" y="271">NNR1</text></g>
<g id="n-FAA2"><circle class="n" cx="92" cy="276" r="5"/><text class="t" x="78" y="282">FAA2</text></g>
<g id="n-CMA1"><circle class="n" cx="153" cy="275" r="5"/><text class="t" x="150" y="270">CMA1</text></g>
<g id="n-IFK2"><circle class="n" cx="105" cy="286" r="5"/><text class="t" x="93" y="292">IFK2</text></g>
<g id="n-QMH1"><circle class="n" cx="130" cy="281" r="5"/><text class="t" x="116" y="285">QMH1</text></g>
<g id="n-MHO1"><circle class="n" cx="143" cy="290" r="5"/><text class="t" x="131" y="295">MHO1</text></g>
<g id="n-DUR7"><circle class="n" cx="160" cy="296" r="5"/><text class="t" x="155" y="297">DUR7</text></g>
<g id="n-GSL1"><circle class="n" cx="112" cy="297" r="5"/><text class="t" x="97" y="304">GSL1</text></g>
<g id="n-SAP98"><circle class="n" cx="126" cy="307" r="5"/><text class="t" x="110" y="313">SAP98</text></g>
<g id="n-DUR32"><circle class="n" cx="163" cy="304" r="5"/><text class="t" x="157" y="313">DUR32</text></g>
<g id="n-LIP4"><circle class="n" cx="143" cy="311" r="5"/><text class="t" x="137" y="320">LIP4</text></g>
<g id="n-HGT4"><circle class="n" cx="279" cy="197" r="5"/><text class="t" x="272" y="208">HGT4</text></g>
<g id="n-CFL2"><circle class="n" cx="282" cy="185" r="5"/><text class="t" x="268" y="188">CFL2</text></g>
<g id="n-VBA1"><circle class="n" cx="297" cy="178" r="5"/><text class="t" x="287" y="176">VBA1</text></g>
<g id="n-ACH1"><circle class="n" cx="310" cy="173" r="5"/><text class="t" x="309" y="170">ACH1</text></g>
<g id="n-SAP5"><circle class="n" cx="294" cy="148" r="5"/><text class="t" x="279" y="155">SAP5</text></g>
<g id="n-CHS2"><circle class="p" cx="323" cy="132" r="9.5"/><text class="t" x="323" y="135">CHS2</text></g>
<g id="n-MLT1"><circle class="n" cx="289" cy="267" r="5"/><text class="t" x="275" y="270">MLT1</text></g>
<g id="n-MTE3"><circle class="n" cx="282" cy="285" r="5"/><text class="t" x="267" y="289">MTE3</text></g>
<g id="n-CLN3"><circle class="n" cx="321" cy="275" r="5"/><text class="t" x="314" y="285">CLN3</text></g>
<g id="n-UGA4"><circle class="n" cx="302" cy="294" r="5"/><text class="t" x="291" y="304">UGA4</text></g>
<g id="n-CHS8"><circle class="p" cx="365" cy="208" r="9.5"/><text class="t" x="366" y="211">CHS8</text></g>
<g id="n-WSC1"><circle class="p" cx="367" cy="222" r="9.5"/><text class="t" x="367" y="225">WSC1</text></g>
<g id="n-MP65"><circle class="p" cx="410" cy="216" r="9.5"/><text class="t" x="410" y="219">MP65</text></g>
<g id="n-RBT4"><circle class="p" cx="384" cy="249" r="9.5"/><text class="t" x="384" y="252">RBT4</text></g>
<g id="n-GSC1"><circle class="p" cx="370" cy="256" r="9.5"/><text class="t" x="370" y="259">GSC1</text></g>
<g id="n-MSB2"><circle class="p" cx="352" cy="262" r="9.5"/><text class="t" x="352" y="265">MSB2</text></g>
<g id="n-FLC2"><circle class="n" cx="346" cy="361" r="5"/><text class="t" x="352" y="373">FLC2</text></g>
<g id="n-RTN1"><circle class="n" cx="397" cy="348" r="5"/><text class="t" x="399" y="361">RTN1</text></g>
<g id="n-SUN41"><circle class="p" cx="401" cy="371" r="9.5"/><text class="t" x="401" y="374">SUN41</text></g>
<g id="n-CRH11"><circle class="p" cx="402" cy="386" r="9.5"/><text class="t" x="402" y="389">CRH11</text></g>
<g id="n-ECM33"><circle class="p" cx="446" cy="291" r="9.5"/><text class="t" x="446" y="294">ECM33</text></g>
<g id="n-FEN1"><circle class="n" cx="455" cy="243" r="5"/><text class="t" x="443" y="239">FEN1</text></g>
<g id="n-VRG4"><circle class="n" cx="485" cy="235" r="5"/><text class="t" x="485" y="231">VRG4</text></g>
<g id="n-LCB2"><circle class="n" cx="517" cy="245" r="5"/><text class="t" x="507" y="241">LCB2</text></g>
<g id="n-KRE9"><circle class="p" cx="491" cy="298" r="9.5"/><text class="t" x="491" y="301">KRE9</text></g>
<g id="n-BGL2"><circle class="p" cx="514" cy="298" r="9.5"/><text class="t" x="514" y="301">BGL2</text></g>
<g id="n-TOS1"><circle class="p" cx="545" cy="296" r="9.5"/><text class="t" x="545" y="299">TOS1</text></g>
<g id="n-ATP16"><circle class="n" cx="469" cy="334" r="5"/><text class="t" x="465" y="330">ATP16</text></g>
<g id="n-HET1"><circle class="n" cx="467" cy="348" r="5"/><text class="t" x="452" y="354">HET1</text></g>
<g id="n-CUP5"><circle class="n" cx="474" cy="363" r="5"/><text class="t" x="456" y="372">CUP5</text></g>
<g id="n-SIM1"><circle class="n" cx="486" cy="374" r="5"/><text class="t" x="473" y="382">SIM1</text></g>
<g id="n-SMD1"><circle class="n" cx="509" cy="377" r="5"/><text class="t" x="497" y="389">SMD1</text></g>
<g id="n-GIS2"><circle class="n" cx="549" cy="331" r="5"/><text class="t" x="547" y="326">GIS2</text></g>
<g id="n-AIM18"><circle class="n" cx="547" cy="348" r="5"/><text class="t" x="543" y="360">AIM18</text></g>
<g id="n-SMP3"><circle class="p" cx="141" cy="369" r="9.5"/><text class="t" x="141" y="372">SMP3</text></g>
<g id="n-GNP3"><circle class="n" cx="103" cy="343" r="5"/><text class="t" x="96" y="338">GNP3</text></g>
<g id="n-RPS42"><circle class="n" cx="94" cy="355" r="5"/><text class="t" x="82" y="350">RPS42</text></g>
<g id="n-CR_07310W"><circle class="n" cx="58" cy="347" r="5"/><text class="t" x="47" y="342">CR_07310W</text></g>
<g id="n-MRN1"><circle class="n" cx="51" cy="357" r="5"/><text class="t" x="33" y="355">MRN1</text></g>
<g id="n-CR_01600C"><circle class="n" cx="43" cy="367" r="5"/><text class="t" x="27" y="368">CR_01600C</text></g>
<g id="n-SNU13"><circle class="n" cx="38" cy="376" r="5"/><text class="t" x="18" y="381">SNU13</text></g>
<g id="n-FET33"><circle class="n" cx="47" cy="391" r="5"/><text class="t" x="27" y="394">FET33</text></g>
<g id="n-QRI7"><circle class="ry" cx="49" cy="403" r="5"/><text class="t" x="33" y="405">QRI7</text></g>
<g id="n-HSX11"><circle class="n" cx="147" cy="386" r="5"/><text class="t" x="163" y="388">HSX11</text></g>
<g id="n-GUT1"><circle class="n" cx="149" cy="398" r="5"/><text class="t" x="162" y="400">GUT1</text></g>
<g id="n-SET6"><circle class="n" cx="160" cy="412" r="5"/><text class="t" x="172" y="414">SET6</text></g>
<g id="n-DGK1"><circle class="n" cx="141" cy="416" r="5"/><text class="t" x="152" y="426">DGK1</text></g>
<g id="n-URA4"><circle class="n" cx="128" cy="426" r="5"/><text class="t" x="139" y="437">URA4</text></g>
<g id="n-ARG11"><circle class="n" cx="111" cy="431" r="5"/><text class="t" x="111" y="444">ARG11</text></g>
<g id="n-MRPL3"><circle class="ry" cx="77" cy="430" r="5"/><text class="t" x="76" y="442">MRPL3</text></g>
<g id="n-TAZ1"><circle class="ry" cx="59" cy="425" r="5"/><text class="t" x="47" y="435">TAZ1</text></g>
<g id="n-MRX15"><circle class="ry" cx="50" cy="414" r="5"/><text class="t" x="37" y="422">MRX15</text></g>
<g id="n-MME1"><circle class="ry" cx="33" cy="413" r="5"/><text class="t" x="14" y="417">MME1</text></g>
<g id="n-YHM1"><circle class="ry" cx="37" cy="426" r="5"/><text class="t" x="18" y="432">YHM1</text></g>
<g id="n-MRS4"><circle class="ry" cx="39" cy="437" r="5"/><text class="t" x="17" y="448">MRS4</text></g>
<g id="n-TES4"><circle class="ry" cx="55" cy="439" r="5"/><text class="t" x="52" y="453">TES4</text></g>
<g id="n-GLN3"><circle class="n" cx="245" cy="361" r="5"/><text class="t" x="229" y="358">GLN3</text></g>
<g id="n-BSD2"><circle class="n" cx="268" cy="359" r="5"/><text class="t" x="267" y="353">BSD2</text></g>
<g id="n-FCR3"><circle class="n" cx="291" cy="363" r="5"/><text class="t" x="311" y="364">FCR3</text></g>
<g id="n-ZCF30"><circle class="n" cx="226" cy="374" r="5"/><text class="t" x="207" y="374">ZCF30</text></g>
<g id="n-URN1"><circle class="n" cx="303" cy="382" r="5"/><text class="t" x="321" y="385">URN1</text></g>
<g id="n-PCF11"><circle class="n" cx="214" cy="392" r="5"/><text class="t" x="197" y="395">PCF11</text></g>
<g id="n-RAD4"><circle class="n" cx="307" cy="401" r="5"/><text class="t" x="321" y="406">RAD4</text></g>
<g id="n-SHE4"><circle class="n" cx="213" cy="408" r="5"/><text class="t" x="198" y="414">SHE4</text></g>
<g id="n-BYE1"><circle class="n" cx="223" cy="423" r="5"/><text class="t" x="210" y="430">BYE1</text></g>
<g id="n-ALR1"><circle class="n" cx="239" cy="433" r="5"/><text class="t" x="227" y="442">ALR1</text></g>
<g id="n-SDD4"><circle class="n" cx="261" cy="440" r="5"/><text class="t" x="261" y="453">SDD4</text></g>
<g id="n-RIM21"><circle class="n" cx="287" cy="436" r="5"/><text class="t" x="291" y="448">RIM21</text></g>
<g id="n-SLN1"><circle class="n" cx="305" cy="422" r="5"/><text class="t" x="317" y="430">SLN1</text></g>
<g id="n-FBA1"><circle class="rg" cx="219" cy="494" r="5"/><text class="t" x="202" y="494">FBA1</text></g>
<g id="n-HXK2"><circle class="rg" cx="233" cy="490" r="5"/><text class="t" x="219" y="485">HXK2</text></g>
<g id="n-DAK2"><circle class="rg" cx="251" cy="490" r="5"/><text class="t" x="247" y="485">DAK2</text></g>
<g id="n-ENO1"><circle class="rg" cx="266" cy="495" r="5"/><text class="t" x="280" y="492">ENO1</text></g>
<g id="n-HEM13"><circle class="rg" cx="279" cy="506" r="5"/><text class="t" x="296" y="507">HEM13</text></g>
<g id="n-TDH3"><circle class="rg" cx="288" cy="523" r="5"/><text class="t" x="306" y="524">TDH3</text></g>
<g id="n-RCF2"><circle class="rg" cx="203" cy="503" r="5"/><text class="t" x="186" y="506">RCF2</text></g>
<g id="n-TPI1"><circle class="rg" cx="196" cy="515" r="5"/><text class="t" x="179" y="520">TPI1</text></g>
<g id="n-PFK2"><circle class="rg" cx="188" cy="529" r="5"/><text class="t" x="172" y="540">PFK2</text></g>
<g id="n-PFK1"><circle class="rg" cx="187" cy="543" r="5"/><text class="t" x="171" y="557">PFK1</text></g>
<g id="n-CDC19"><circle class="rg" cx="194" cy="558" r="5"/><text class="t" x="167" y="575">CDC19</text></g>
<g id="n-ADH1"><circle class="rg" cx="201" cy="576" r="5"/><text class="t" x="184" y="585">ADH1</text></g>
<g id="n-PMU5"><circle class="n" cx="287" cy="549" r="5"/><text class="t" x="302" y="552">PMU5</text></g>
<g id="n-GPM1"><circle class="n" cx="284" cy="565" r="5"/><text class="t" x="297" y="568">GPM1</text></g>
<g id="n-DES1"><circle class="n" cx="278" cy="576" r="5"/><text class="t" x="290" y="585">DES1</text></g>
<g id="n-ERG1"><circle class="n" cx="262" cy="588" r="5"/><text class="t" x="271" y="599">ERG1</text></g>
<g id="n-UPC2"><circle class="n" cx="246" cy="590" r="5"/><text class="t" x="242" y="603">UPC2</text></g>
<g id="n-GAG1"><circle class="n" cx="220" cy="589" r="5"/><text class="t" x="211" y="599">GAG1</text></g>
<g id="n-SEC24"><circle class="rs" cx="398" cy="445" r="5"/><text class="t" x="380" y="447">SEC24</text></g>
<g id="n-SEC23"><circle class="rs" cx="376" cy="456" r="5"/><text class="t" x="360" y="458">SEC23</text></g>
<g id="n-SEC61"><circle class="rs" cx="370" cy="467" r="5"/><text class="t" x="353" y="476">SEC61</text></g>
<g id="n-PMR1"><circle class="rs" cx="370" cy="483" r="5"/><text class="t" x="356" y="493">PMR1</text></g>
<g id="n-WBP1"><circle class="rb" cx="457" cy="457" r="5"/><text class="t" x="470" y="459">WBP1</text></g>
<g id="n-STT3"><circle class="rb" cx="452" cy="471" r="5"/><text class="t" x="469" y="474">STT3</text></g>
<g id="n-PMT1"><circle class="rb" cx="452" cy="486" r="5"/><text class="t" x="469" y="489">PMT1</text></g>
<g id="n-PMT4"><circle class="n" cx="397" cy="515" r="5"/><text class="t" x="393" y="528">PMT4</text></g>
<g id="n-PMT2"><circle class="n" cx="424" cy="515" r="5"/><text class="t" x="423" y="527">PMT2</text></g>
<g id="n-CNH1"><circle class="n" cx="575" cy="401" r="5"/><text class="t" x="571" y="395">CNH1</text></g>
<g id="n-VID21"><circle class="n" cx="598" cy="398" r="5"/><text class="t" x="597" y="393">VID21</text></g>
<g id="n-SPT6"><circle class="n" cx="615" cy="401" r="5"/><text class="t" x="629" y="398">SPT6</text></g>
<g id="n-MVD"><circle class="n" cx="562" cy="412" r="5"/><text class="t" x="555" y="409">MVD</text></g>
<g id="n-C1_13320C"><circle class="n" cx="627" cy="409" r="5"/><text class="t" x="652" y="411">C1_13320C</text></g>
<g id="n-RRM3"><circle class="n" cx="634" cy="423" r="5"/><text class="t" x="649" y="427">RRM3</text></g>
<g id="n-KEL1"><circle class="n" cx="633" cy="440" r="5"/><text class="t" x="648" y="444">KEL1</text></g>
<g id="n-SDH7"><circle class="n" cx="629" cy="456" r="5"/><text class="t" x="645" y="460">SDH7</text></g>
<g id="n-C7_00040C"><circle class="n" cx="600" cy="475" r="5"/><text class="t" x="624" y="479">C7_00040C</text></g>
<g id="n-C5_05270C"><circle class="n" cx="584" cy="476" r="5"/><text class="t" x="582" y="490">C5_05270C</text></g>
<g id="n-C1_14520W"><circle class="n" cx="569" cy="473" r="5"/><text class="t" x="542" y="478">C1_14520W</text></g>
<g id="n-KRS1"><circle class="rv" cx="546" cy="431" r="5"/><text class="t" x="530" y="434">KRS1</text></g>
<g id="n-HTS1"><circle class="rv" cx="545" cy="441" r="5"/><text class="t" x="529" y="444">HTS1</text></g>
<g id="n-THS1"><circle class="rv" cx="545" cy="451" r="5"/><text class="t" x="530" y="455">THS1</text></g>
<g id="n-ENG1"><circle class="p" cx="371" cy="572" r="9.5"/><text class="t" x="366" y="575">ENG1</text></g>
<g id="n-RBE1"><circle class="p" cx="365" cy="588" r="9.5"/><text class="t" x="362" y="591">RBE1</text></g>
<g id="n-C1_11990W"><circle class="p" cx="371" cy="601" r="9.5"/><text class="t" x="360" y="604">C1_11990W</text></g>
<g id="n-SCW11"><circle class="p" cx="440" cy="556" r="9.5"/><text class="t" x="440" y="559">SCW11</text></g>
<g id="n-CHT3"><circle class="p" cx="441" cy="576" r="9.5"/><text class="t" x="441" y="579">CHT3</text></g>
<g id="n-HTA2"><circle class="n" cx="23" cy="497" r="5"/><text class="t" x="18" y="494">HTA2</text></g>
<g id="n-FAV2"><circle class="n" cx="70" cy="497" r="5"/><text class="t" x="63" y="493">FAV2</text></g>
<g id="n-C3_04310C"><circle class="n" cx="117" cy="497" r="5"/><text class="t" x="107" y="493">C3_04310C</text></g>
<g id="n-GCY1"><circle class="n" cx="25" cy="560" r="5"/><text class="t" x="25" y="556">GCY1</text></g>
<g id="n-FLO9"><circle class="n" cx="70" cy="560" r="5"/><text class="t" x="68" y="556">FLO9</text></g>
<g id="n-C3_04120C"><circle class="n" cx="120" cy="560" r="5"/><text class="t" x="124" y="556">C3_04120C</text></g>
<g id="PGA32"><rect class="s" x="59" y="34" width="34" height="32" rx="5"/><text class="st" x="76" y="53.5">PGA32</text></g>
<g id="PGA31"><rect class="s" x="13" y="98" width="34" height="32" rx="5"/><text class="st" x="30" y="117.5">PGA31</text></g>
<g id="PGA7"><rect class="s" x="197" y="64" width="34" height="32" rx="5"/><text class="st" x="214" y="83.5">PGA7</text></g>
<g id="PGA34"><rect class="s" x="335" y="72" width="34" height="32" rx="5"/><text class="st" x="352" y="91.5">PGA34</text></g>
<g id="PGA60"><rect class="s" x="541" y="48" width="34" height="32" rx="5"/><text class="st" x="558" y="67.5">PGA60</text></g>
<g id="PGA44"><rect class="s" x="539" y="142" width="34" height="32" rx="5"/><text class="st" x="556" y="161.5">PGA44</text></g>
<g id="PGA49"><rect class="s" x="145" y="213" width="34" height="32" rx="5"/><text class="st" x="162" y="232.5">PGA49</text></g>
<g id="PGA13"><rect class="s" x="297" y="196" width="34" height="32" rx="5"/><text class="st" x="314" y="215.5">PGA13</text></g>
<g id="PGA6"><rect class="s" x="472" y="250" width="34" height="32" rx="5"/><text class="st" x="489" y="269.5">PGA6</text></g>
<g id="PGA54"><rect class="s" x="340" y="315" width="34" height="32" rx="5"/><text class="st" x="357" y="334.5">PGA54</text></g>
<g id="PGA18"><rect class="s" x="415" y="315" width="34" height="32" rx="5"/><text class="st" x="432" y="334.5">PGA18</text></g>
<g id="PGA56"><rect class="s" x="490" y="321" width="34" height="32" rx="5"/><text class="st" x="507" y="340.5">PGA56</text></g>
<g id="PGA14"><rect class="s" x="573" y="324" width="34" height="32" rx="5"/><text class="st" x="590" y="343.5">PGA14</text></g>
<g id="PGA3"><rect class="s" x="113" y="332" width="34" height="32" rx="5"/><text class="st" x="130" y="351.5">PGA3</text></g>
<g id="PGA57"><rect class="s" x="87" y="379" width="34" height="32" rx="5"/><text class="st" x="104" y="398.5">PGA57</text></g>
<g id="PGA27"><rect class="s" x="246" y="381" width="34" height="32" rx="5"/><text class="st" x="263" y="400.5">PGA27</text></g>
<g id="PGA59"><rect class="s" x="573" y="423" width="34" height="32" rx="5"/><text class="st" x="590" y="442.5">PGA59</text></g>
<g id="PGA63"><rect class="s" x="396" y="467" width="34" height="32" rx="5"/><text class="st" x="413" y="486.5">PGA63</text></g>
<g id="PGA10"><rect class="s" x="225" y="529" width="34" height="32" rx="5"/><text class="st" x="242" y="548.5">PGA10</text></g>
<g id="PGA53"><rect class="s" x="7" y="511" width="34" height="32" rx="5"/><text class="st" x="24" y="530.5">PGA53</text></g>
<g id="PGA1"><rect class="s" x="56" y="511" width="34" height="32" rx="5"/><text class="st" x="73" y="530.5">PGA1</text></g>
<g id="PGA28"><rect class="s" x="104" y="511" width="34" height="32" rx="5"/><text class="st" x="121" y="530.5">PGA28</text></g>
<g id="RBR1"><rect class="s" x="4" y="574" width="34" height="32" rx="5"/><text class="st" x="21" y="593.5">RBR1</text></g>
<g id="PGA25"><rect class="s" x="56" y="574" width="34" height="32" rx="5"/><text class="st" x="73" y="593.5">PGA25</text></g>
<g id="PGA15"><rect class="s" x="107" y="574" width="34" height="32" rx="5"/><text class="st" x="124" y="593.5">PGA15</text></g>
<g id="PGA38"><rect class="s" x="390" y="571" width="34" height="32" rx="5"/><text class="st" x="407" y="590.5">PGA38</text></g>
<g id="FGR41"><rect class="s" x="460" y="572" width="34" height="32" rx="5"/><text class="st" x="477" y="591.5">FGR41</text></g>
<g id="annotations">
<text class="h" x="641" y="86">Metal</text>
<text class="h" x="641" y="97">homeostasis</text>
<text class="h" x="8" y="462">Mitochondria</text>
<text class="h" x="193" y="482" text-anchor="middle" transform="rotate(-33 193 482)">Metabolism</text>
<text class="h" x="346" y="450" text-anchor="middle" transform="rotate(-37 346 450)">Secretion</text>
<text class="h" x="463" y="447" text-anchor="middle">N-glycosylation</text>
<text class="h" x="527" y="423" text-anchor="middle">tRNA synthesis</text>
</g>
<g id="legend">
<rect x="529" y="526" width="16" height="15" rx="2" fill="#0b6294"/>
<text class="lg" x="547" y="537">GPI-anchored 'seed' protein</text>
<circle cx="537" cy="555" r="8" fill="#cdccf8"/>
<text class="lg" x="547" y="561">Cell wall biosynthesis</text>
</g>
</svg>
